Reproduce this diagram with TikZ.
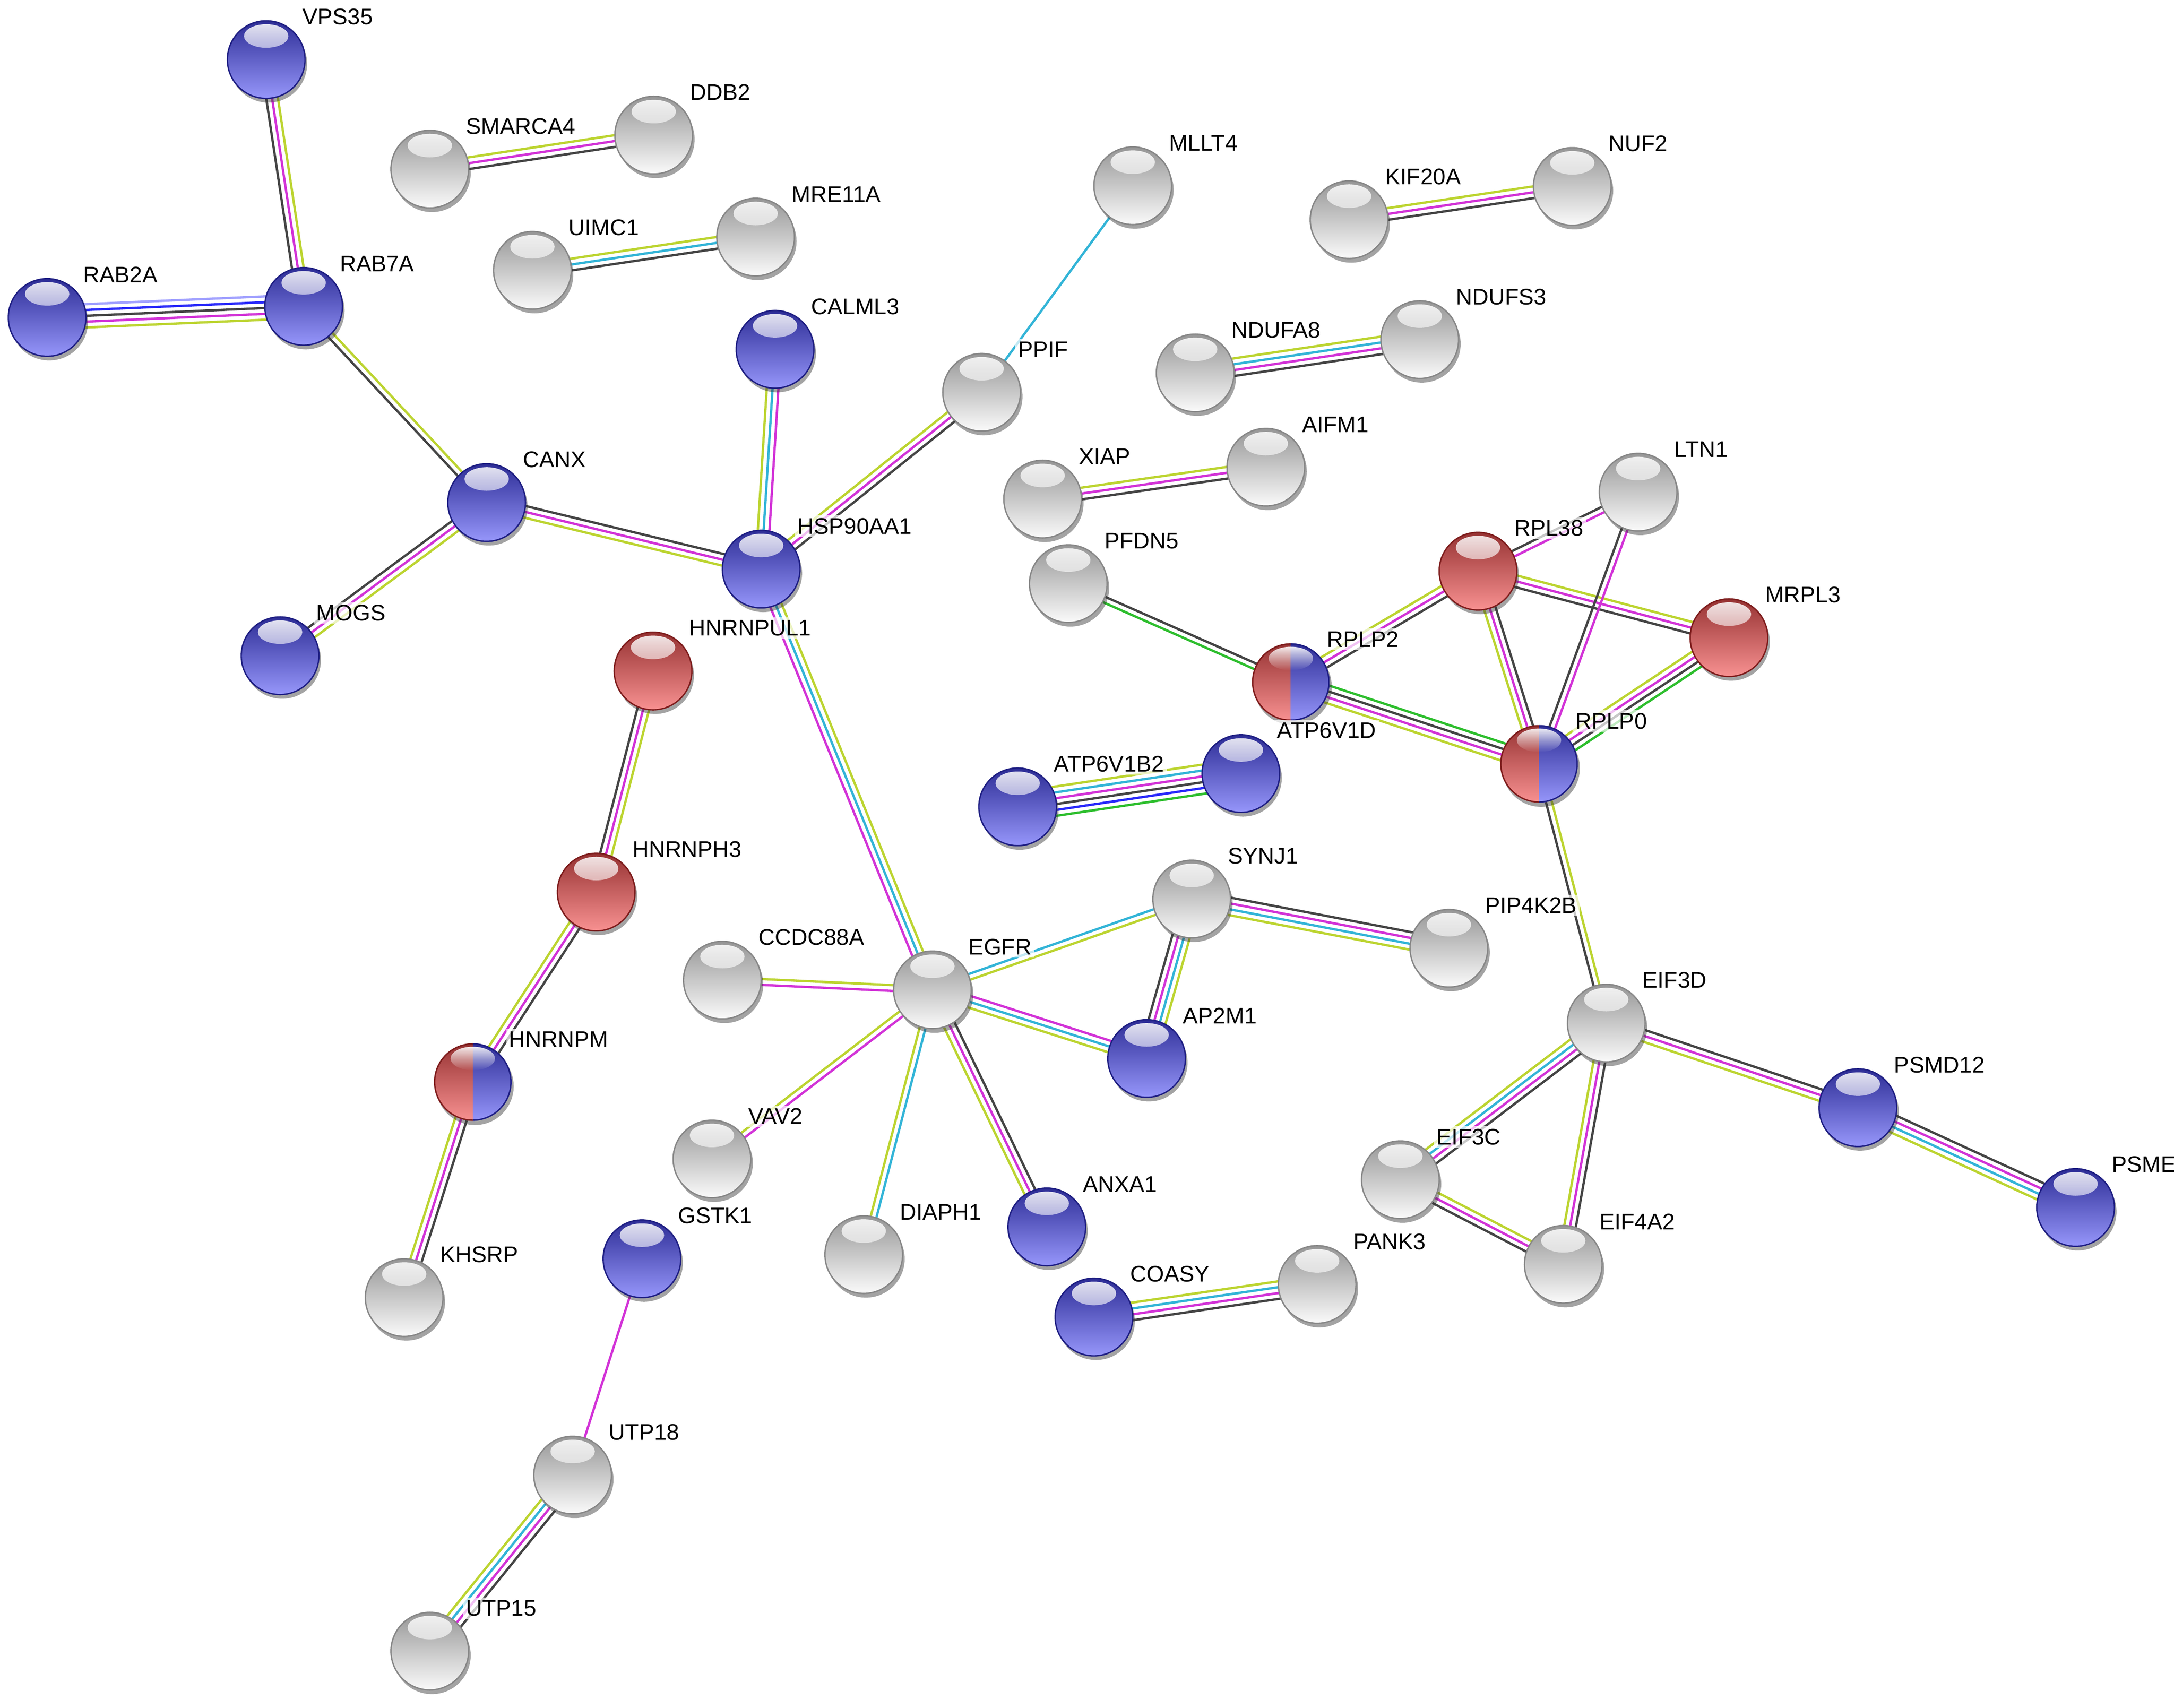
\documentclass[tikz,border=0pt]{standalone}
\usepackage{fontspec}
\setmainfont{Liberation Sans}
\usetikzlibrary{positioning, calc, backgrounds, shadows, fadings}

\definecolor{cY}{RGB}{188,212,48}
\definecolor{cM}{RGB}{210,50,215}
\definecolor{cK}{RGB}{68,68,68}
\definecolor{cC}{RGB}{50,180,215}
\definecolor{cG}{RGB}{45,190,45}
\definecolor{cB}{RGB}{40,40,250}
\definecolor{cL}{RGB}{160,160,255}
\definecolor{blT}{RGB}{45,45,150}
\definecolor{blB}{RGB}{150,150,250}
\definecolor{blE}{RGB}{30,30,130}
\definecolor{rdT}{RGB}{150,50,50}
\definecolor{rdB}{RGB}{248,145,145}
\definecolor{rdE}{RGB}{125,28,28}
\definecolor{gyT}{RGB}{150,150,150}
\definecolor{gyB}{RGB}{250,250,250}
\definecolor{gyE}{RGB}{135,135,135}

% highlight on top of a ball
\newcommand{\gloss}{\fill[white, path fading=south, fill opacity=.9] ([yshift=17pt]path picture bounding box.center) ellipse [x radius=16pt, y radius=8.5pt];}
% red left half, blue right half
\newcommand{\halves}{%
  \shade[top color=rdT, bottom color=rdB] (path picture bounding box.south west) rectangle (path picture bounding box.north);
  \shade[top color=blT, bottom color=blB] (path picture bounding box.south) rectangle (path picture bounding box.north east);
  \begin{scope}
    \clip (path picture bounding box.south west) rectangle (path picture bounding box.north);
    \draw[rdE, line width=2pt] (path picture bounding box.center) circle[radius=28pt];
  \end{scope}
  \begin{scope}
    \clip (path picture bounding box.south) rectangle (path picture bounding box.north east);
    \draw[blE, line width=2pt] (path picture bounding box.center) circle[radius=28pt];
  \end{scope}}
% one line per evidence colour, side by side
\newcommand{\evid}[3]{%
  \begin{scope}[on background layer]
    \foreach \c [count=\k] in {#3} {\xdef\nev{\k}}
    \foreach \c [count=\k] in {#3} {
      \pgfmathsetmacro{\off}{((\nev+1)/2-\k)*4.2}
      \draw[ev, draw=\c] ($(#1.center)!\off pt!90:(#2.center)$) -- ($(#2.center)!\off pt!-90:(#1.center)$);
    }
  \end{scope}}

\begin{document}
\begin{tikzpicture}[x=1pt, y=-1pt,
  prot/.style={circle, minimum size=56pt, inner sep=0pt, line width=1pt, drop shadow={shadow xshift=1.5pt, shadow yshift=-3pt, opacity=.45, fill=black!80}},
  gp/.style={prot, draw=gyE, top color=gyT, bottom color=gyB, path picture={\gloss}},
  bp/.style={prot, draw=blE, top color=blT, bottom color=blB, path picture={\gloss}},
  rp/.style={prot, draw=rdE, top color=rdT, bottom color=rdB, path picture={\gloss}},
  hp/.style={prot, path picture={\halves\gloss}},
  lab/.style={font=\fontsize{16.3}{18}\selectfont, inner sep=2pt, fill=white, fill opacity=.7, text opacity=1},
  ev/.style={line width=1.7pt}]
  \useasboundingbox (0,0) rectangle (1568,1232);

  \node[bp] (VPS35) at (192,43) {};
  \node[lab, above right=23pt and 24pt of VPS35.center] (VPS35_label) {VPS35};
  \node[gp] (SMARCA4) at (310,122) {};
  \node[lab, above right=23pt and 24pt of SMARCA4.center] (SMARCA4_label) {SMARCA4};
  \node[gp] (DDB2) at (471.5,97.5) {};
  \node[lab, above right=23pt and 24pt of DDB2.center] (DDB2_label) {DDB2};
  \node[gp] (UIMC1) at (384,195) {};
  \node[lab, above right=23pt and 24pt of UIMC1.center] (UIMC1_label) {UIMC1};
  \node[gp] (MRE11A) at (545,171) {};
  \node[lab, above right=23pt and 24pt of MRE11A.center] (MRE11A_label) {MRE11A};
  \node[gp] (MLLT4) at (817,134) {};
  \node[lab, above right=23pt and 24pt of MLLT4.center] (MLLT4_label) {MLLT4};
  \node[gp] (KIF20A) at (973,158.5) {};
  \node[lab, above right=23pt and 24pt of KIF20A.center] (KIF20A_label) {KIF20A};
  \node[gp] (NUF2) at (1134,134.5) {};
  \node[lab, above right=23pt and 24pt of NUF2.center] (NUF2_label) {NUF2};
  \node[bp] (RAB2A) at (34,229) {};
  \node[lab, above right=23pt and 24pt of RAB2A.center] (RAB2A_label) {RAB2A};
  \node[bp] (RAB7A) at (219,221) {};
  \node[lab, above right=23pt and 24pt of RAB7A.center] (RAB7A_label) {RAB7A};
  \node[bp] (CALML3) at (559,252) {};
  \node[lab, above right=23pt and 24pt of CALML3.center] (CALML3_label) {CALML3};
  \node[gp] (PPIF) at (708,283) {};
  \node[lab, above right=23pt and 24pt of PPIF.center] (PPIF_label) {PPIF};
  \node[gp] (NDUFA8) at (862,269) {};
  \node[lab, above right=23pt and 24pt of NDUFA8.center] (NDUFA8_label) {NDUFA8};
  \node[gp] (NDUFS3) at (1024,245) {};
  \node[lab, above right=23pt and 24pt of NDUFS3.center] (NDUFS3_label) {NDUFS3};
  \node[gp] (XIAP) at (752,360) {};
  \node[lab, above right=23pt and 24pt of XIAP.center] (XIAP_label) {XIAP};
  \node[gp] (AIFM1) at (913,337) {};
  \node[lab, above right=23pt and 24pt of AIFM1.center] (AIFM1_label) {AIFM1};
  \node[gp] (LTN1) at (1181.5,355) {};
  \node[lab, above right=23pt and 24pt of LTN1.center] (LTN1_label) {LTN1};
  \node[bp] (CANX) at (351,362.5) {};
  \node[lab, above right=23pt and 24pt of CANX.center] (CANX_label) {CANX};
  \node[bp] (HSP90AA1) at (549,410.5) {};
  \node[lab, above right=23pt and 24pt of HSP90AA1.center] (HSP90AA1_label) {HSP90AA1};
  \node[gp] (PFDN5) at (770.5,421) {};
  \node[lab, above right=23pt and 24pt of PFDN5.center] (PFDN5_label) {PFDN5};
  \node[rp] (RPL38) at (1066,412) {};
  \node[lab, above right=23pt and 24pt of RPL38.center] (RPL38_label) {RPL38};
  \node[rp] (MRPL3) at (1247,460) {};
  \node[lab, above right=23pt and 24pt of MRPL3.center] (MRPL3_label) {MRPL3};
  \node[bp] (MOGS) at (202,473) {};
  \node[lab, above right=23pt and 24pt of MOGS.center] (MOGS_label) {MOGS};
  \node[rp] (HNRNPUL1) at (471,484) {};
  \node[lab, above right=23pt and 24pt of HNRNPUL1.center] (HNRNPUL1_label) {HNRNPUL1};
  \node[hp] (RPLP2) at (931,492) {};
  \node[lab, above right=23pt and 24pt of RPLP2.center] (RPLP2_label) {RPLP2};
  \node[hp] (RPLP0) at (1110,551) {};
  \node[lab, above right=23pt and 24pt of RPLP0.center] (RPLP0_label) {RPLP0};
  \node[bp] (ATP6V1D) at (895,558) {};
  \node[lab, above right=23pt and 24pt of ATP6V1D.center] (ATP6V1D_label) {ATP6V1D};
  \node[bp] (ATP6V1B2) at (734,582) {};
  \node[lab, above right=23pt and 24pt of ATP6V1B2.center] (ATP6V1B2_label) {ATP6V1B2};
  \node[rp] (HNRNPH3) at (430,643.5) {};
  \node[lab, above right=23pt and 24pt of HNRNPH3.center] (HNRNPH3_label) {HNRNPH3};
  \node[gp] (SYNJ1) at (859.5,648.5) {};
  \node[lab, above right=23pt and 24pt of SYNJ1.center] (SYNJ1_label) {SYNJ1};
  \node[gp] (PIP4K2B) at (1045,684) {};
  \node[lab, above right=23pt and 24pt of PIP4K2B.center] (PIP4K2B_label) {PIP4K2B};
  \node[gp] (CCDC88A) at (521,707) {};
  \node[lab, above right=23pt and 24pt of CCDC88A.center] (CCDC88A_label) {CCDC88A};
  \node[gp] (EGFR) at (672.5,714) {};
  \node[lab, above right=23pt and 24pt of EGFR.center] (EGFR_label) {EGFR};
  \node[gp] (EIF3D) at (1158.5,738) {};
  \node[lab, above right=23pt and 24pt of EIF3D.center] (EIF3D_label) {EIF3D};
  \node[bp] (AP2M1) at (827,763.5) {};
  \node[lab, above right=23pt and 24pt of AP2M1.center] (AP2M1_label) {AP2M1};
  \node[hp] (HNRNPM) at (341,780.5) {};
  \node[lab, above right=23pt and 24pt of HNRNPM.center] (HNRNPM_label) {HNRNPM};
  \node[bp] (PSMD12) at (1340,799) {};
  \node[lab, above right=23pt and 24pt of PSMD12.center] (PSMD12_label) {PSMD12};
  \node[gp] (VAV2) at (513.5,836) {};
  \node[lab, above right=23pt and 24pt of VAV2.center] (VAV2_label) {VAV2};
  \node[gp] (EIF3C) at (1010,851) {};
  \node[lab, above right=23pt and 24pt of EIF3C.center] (EIF3C_label) {EIF3C};
  \node[bp] (PSME) at (1497,871) {};
  \node[lab, above right=23pt and 24pt of PSME.center] (PSME_label) {PSME};
  \node[bp] (ANXA1) at (755,885) {};
  \node[lab, above right=23pt and 24pt of ANXA1.center] (ANXA1_label) {ANXA1};
  \node[gp] (DIAPH1) at (623,905) {};
  \node[lab, above right=23pt and 24pt of DIAPH1.center] (DIAPH1_label) {DIAPH1};
  \node[bp] (GSTK1) at (463,908) {};
  \node[lab, above right=23pt and 24pt of GSTK1.center] (GSTK1_label) {GSTK1};
  \node[gp] (EIF4A2) at (1127.5,912) {};
  \node[lab, above right=23pt and 24pt of EIF4A2.center] (EIF4A2_label) {EIF4A2};
  \node[gp] (PANK3) at (950,926.5) {};
  \node[lab, above right=23pt and 24pt of PANK3.center] (PANK3_label) {PANK3};
  \node[bp] (COASY) at (789,950) {};
  \node[lab, above right=23pt and 24pt of COASY.center] (COASY_label) {COASY};
  \node[gp] (KHSRP) at (291.5,936) {};
  \node[lab, above right=23pt and 24pt of KHSRP.center] (KHSRP_label) {KHSRP};
  \node[gp] (UTP18) at (413,1064) {};
  \node[lab, above right=23pt and 24pt of UTP18.center] (UTP18_label) {UTP18};
  \node[gp] (UTP15) at (310,1191) {};
  \node[lab, above right=23pt and 24pt of UTP15.center] (UTP15_label) {UTP15};

  \evid{VPS35}{RAB7A}{cY,cM,cK}
  \evid{RAB2A}{RAB7A}{cL,cB,cK,cM,cY}
  \evid{RAB7A}{CANX}{cY,cK}
  \evid{SMARCA4}{DDB2}{cY,cM,cK}
  \evid{UIMC1}{MRE11A}{cY,cC,cK}
  \evid{CALML3}{HSP90AA1}{cM,cC,cY}
  \evid{HSP90AA1}{PPIF}{cY,cM,cK}
  \evid{CANX}{HSP90AA1}{cK,cM,cY}
  \evid{CANX}{MOGS}{cY,cM,cK}
  \evid{HSP90AA1}{EGFR}{cY,cC,cM}
  \evid{HNRNPUL1}{HNRNPH3}{cY,cM,cK}
  \evid{PPIF}{MLLT4}{cC}
  \evid{KIF20A}{NUF2}{cY,cM,cK}
  \evid{NDUFA8}{NDUFS3}{cY,cC,cM,cK}
  \evid{XIAP}{AIFM1}{cY,cM,cK}
  \evid{PFDN5}{RPLP2}{cK,cG}
  \evid{RPLP2}{RPL38}{cY,cM,cK}
  \evid{RPL38}{LTN1}{cK,cM}
  \evid{RPL38}{MRPL3}{cY,cM,cK}
  \evid{RPL38}{RPLP0}{cK,cM,cY}
  \evid{LTN1}{RPLP0}{cM,cK}
  \evid{RPLP2}{RPLP0}{cG,cK,cM,cY}
  \evid{MRPL3}{RPLP0}{cG,cK,cM,cY}
  \evid{ATP6V1B2}{ATP6V1D}{cY,cC,cM,cK,cB,cG}
  \evid{RPLP0}{EIF3D}{cY,cK}
  \evid{CCDC88A}{EGFR}{cY,cM}
  \evid{EGFR}{SYNJ1}{cC,cY}
  \evid{SYNJ1}{PIP4K2B}{cK,cM,cC,cY}
  \evid{SYNJ1}{AP2M1}{cY,cC,cM,cK}
  \evid{EGFR}{AP2M1}{cM,cC,cY}
  \evid{EGFR}{VAV2}{cM,cY}
  \evid{EGFR}{DIAPH1}{cC,cY}
  \evid{EGFR}{ANXA1}{cK,cM,cY}
  \evid{COASY}{PANK3}{cY,cC,cM,cK}
  \evid{EIF3D}{PSMD12}{cK,cM,cY}
  \evid{PSMD12}{PSME}{cK,cM,cC,cY}
  \evid{EIF3D}{EIF3C}{cK,cM,cC,cY}
  \evid{EIF3D}{EIF4A2}{cK,cM,cY}
  \evid{EIF3C}{EIF4A2}{cY,cM,cK}
  \evid{HNRNPH3}{HNRNPM}{cK,cM,cY}
  \evid{HNRNPM}{KHSRP}{cK,cM,cY}
  \evid{GSTK1}{UTP18}{cM}
  \evid{UTP18}{UTP15}{cK,cM,cC,cY}
\end{tikzpicture}
\end{document}
